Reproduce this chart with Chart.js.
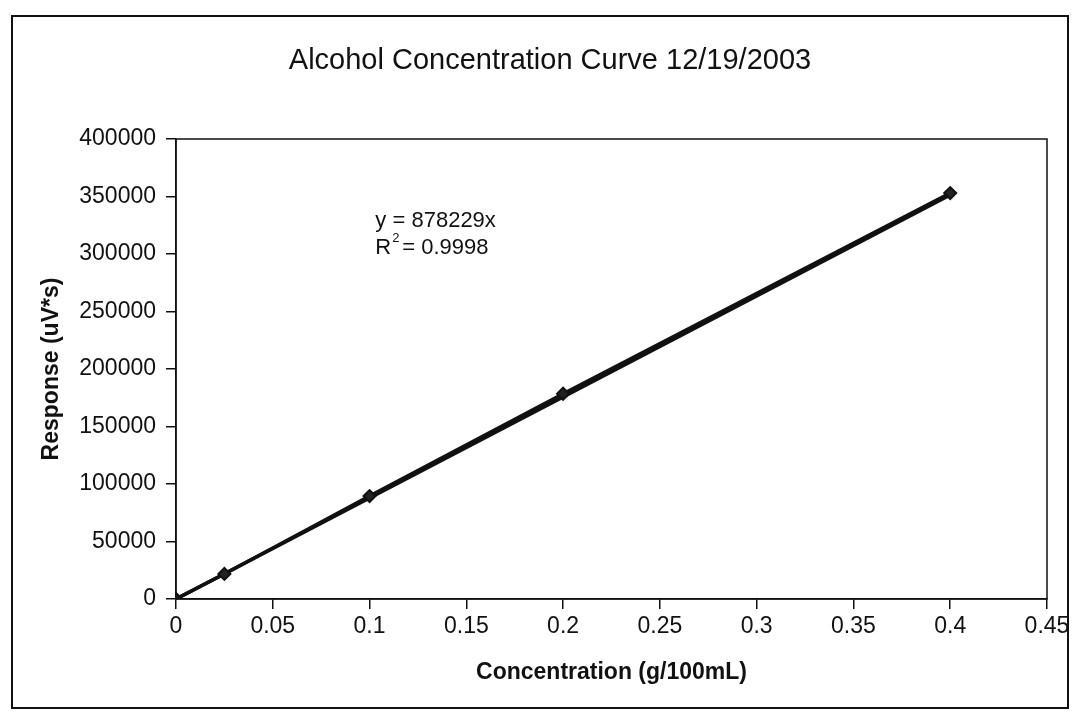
<!DOCTYPE html>
<html lang="en">

<head>
    <meta charset="UTF-8">
    <title>Alcohol Concentration Curve</title>
    <style>
        html, body { margin: 0; padding: 0; background: #fff; }
        #box { width: 1076px; height: 712px; }
    </style>
</head>

<body>
    <div id="box">
        <canvas id="canvasCurva" width="1076" height="712"></canvas>
    </div>
</body>

</html>
<script src="https://cdn.jsdelivr.net/npm/chart.js"></script>
<script>
    // valores
    const concentracao = [0, 0.025, 0.1, 0.2, 0.4];
    const resposta = [0, 21800, 89500, 178500, 353000];
    const inclinacao = 878229;
    const titulo = 'Alcohol Concentration Curve 12/19/2003';
    const textoEquacao = 'y = 878229x';
    const textoR2 = '= 0.9998';
    const xTicks = [0, 0.05, 0.1, 0.15, 0.2, 0.25, 0.3, 0.35, 0.4, 0.45];
    const yTicks = [0, 50000, 100000, 150000, 200000, 250000, 300000, 350000, 400000];

    const pontos = concentracao.map((x, i) => ({ x: x, y: resposta[i] }));
    const xMinimo = concentracao[0];
    const xMaximo = concentracao[concentracao.length - 1];
    const tendencia = [
        { x: xMinimo, y: inclinacao * xMinimo },
        { x: xMaximo, y: inclinacao * xMaximo }
    ];

    const fonte = "'Liberation Sans', Arial, sans-serif";

    // titulo, caixa da area do grafico, moldura externa e texto da equacao
    const extras = {
        id: 'extras',
        afterDraw(chart) {
            const ctx = chart.ctx;
            const area = chart.chartArea;
            ctx.save();
            ctx.strokeStyle = '#111';
            ctx.lineWidth = 1.5;
            ctx.strokeRect(area.left, area.top, area.right - area.left, area.bottom - area.top);

            ctx.lineWidth = 2;
            ctx.strokeRect(12, 16, 1056, 692);

            ctx.fillStyle = '#111';
            ctx.textBaseline = 'middle';
            ctx.textAlign = 'center';
            ctx.font = '29px ' + fonte;
            ctx.fillText(titulo, 550, 61);

            const xs = chart.scales.x;
            const ys = chart.scales.y;
            const px = xs.getPixelForValue(0.103);
            const py = ys.getPixelForValue(329000);
            ctx.textAlign = 'left';
            ctx.font = '22px ' + fonte;
            ctx.fillText(textoEquacao, px, py);
            ctx.fillText('R', px, py + 27);
            const wR = ctx.measureText('R').width;
            ctx.font = '13px ' + fonte;
            ctx.fillText('2', px + wR + 1, py + 18);
            ctx.font = '22px ' + fonte;
            ctx.fillText(textoR2, px + wR + 11, py + 27);
            ctx.restore();
        }
    };

    const grafico = document.getElementById('canvasCurva');

    new Chart(grafico, {
        type: 'scatter',
        data: {
            datasets: [{
                label: 'Dados',
                data: pontos,
                showLine: true,
                borderColor: '#111',
                borderWidth: 3.5,
                pointStyle: 'rectRot',
                pointRadius: 6,
                pointBackgroundColor: '#222',
                pointBorderColor: '#111',
                pointBorderWidth: 2
            }, {
                label: 'Tendencia',
                data: tendencia,
                showLine: true,
                borderColor: '#111',
                borderWidth: 3.5,
                pointRadius: 0
            }]
        },
        options: {
            responsive: false,
            animation: false,
            layout: { padding: { top: 139, right: 29, bottom: 0, left: 0 } },
            plugins: {
                legend: { display: false },
                tooltip: { enabled: false },
                title: { display: false }
            },
            scales: {
                x: {
                    type: 'linear',
                    min: 0,
                    max: 0.45,
                    afterBuildTicks(scale) {
                        scale.ticks = xTicks.map(v => ({ value: v }));
                    },
                    afterFit(scale) { scale.height = 113; },
                    ticks: {
                        color: '#111',
                        font: { family: fonte, size: 23 },
                        padding: 4,
                        maxRotation: 0,
                        callback: v => String(+v.toFixed(2))
                    },
                    grid: {
                        drawOnChartArea: false,
                        drawTicks: true,
                        tickLength: 10,
                        color: '#111',
                        lineWidth: 1.5
                    },
                    border: { display: true, color: '#111', width: 1.5 },
                    title: {
                        display: true,
                        text: 'Concentration (g/100mL)',
                        color: '#111',
                        font: { family: fonte, size: 23, weight: 'bold' },
                        padding: { top: 0, bottom: 26 }
                    }
                },
                y: {
                    type: 'linear',
                    min: 0,
                    max: 400000,
                    afterBuildTicks(scale) {
                        scale.ticks = yTicks.map(v => ({ value: v }));
                    },
                    afterFit(scale) { scale.width = 176; },
                    ticks: {
                        color: '#111',
                        font: { family: fonte, size: 23 },
                        padding: 10,
                        callback: v => String(v)
                    },
                    grid: {
                        drawOnChartArea: false,
                        drawTicks: true,
                        tickLength: 10,
                        color: '#111',
                        lineWidth: 1.5
                    },
                    border: { display: true, color: '#111', width: 1.5 },
                    title: {
                        display: true,
                        text: 'Response (uV*s)',
                        color: '#111',
                        font: { family: fonte, size: 23, weight: 'bold' },
                        padding: { top: 38, bottom: 0 }
                    }
                }
            }
        },
        plugins: [extras]
    });
</script>
